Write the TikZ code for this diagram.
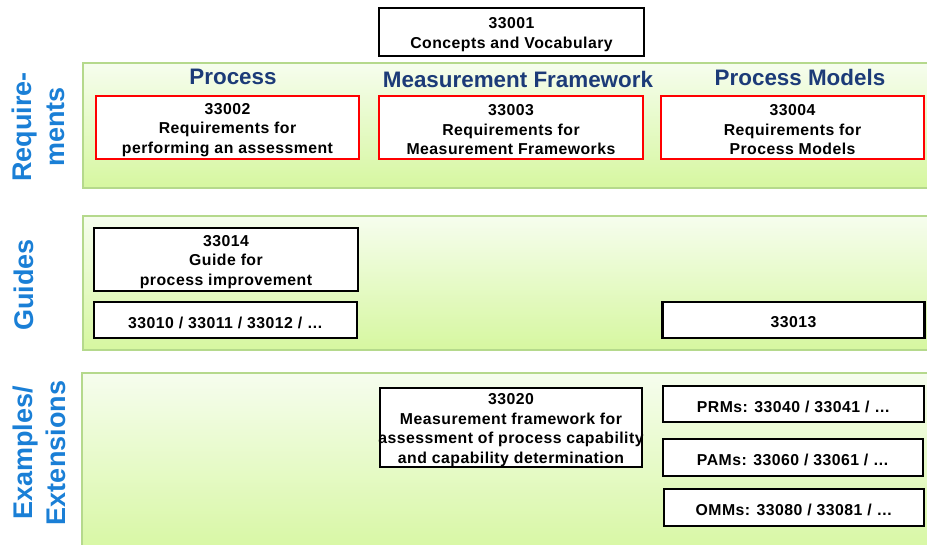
\documentclass[tikz,border=0pt]{standalone}
\usepackage{fontspec}
\setmainfont{Liberation Sans}
\newfontfamily\boxfamily[LetterSpace=3]{Liberation Sans}
\definecolor{lanegreen}{HTML}{B5D98C}
\definecolor{lanetop}{HTML}{F6FDEE}
\definecolor{lanebot}{HTML}{D6F7A0}
\definecolor{navy}{HTML}{1C3B78}
\definecolor{sideblue}{HTML}{1A7FD6}
\definecolor{boxred}{HTML}{FF0000}
\begin{document}
\begin{tikzpicture}[x=1pt,y=-1pt,
  lane/.style={draw=lanegreen, line width=1.2pt, top color=lanetop, bottom color=lanebot},
  box/.style={draw=black, line width=2.8pt, fill=white, inner sep=0pt},
  reqbox/.style={box, draw=boxred},
  txt/.style={font=\boxfamily\fontsize{15.8}{19.5}\selectfont\bfseries, align=center, inner sep=0pt, yshift=-2.5pt},
  hdr/.style={font=\fontsize{22.4}{26}\selectfont\bfseries, text=navy, inner sep=0pt},
  side/.style={font=\fontsize{27}{33}\selectfont\bfseries, text=sideblue, rotate=90, align=center, inner sep=0pt}]
\useasboundingbox (0,0) rectangle (927,545);
% lanes
\path[lane] (83,63) rectangle (940,188);
\path[lane] (83,216) rectangle (940,350);
\path[lane] (82,373) rectangle (940,560);
% side labels
\node[side] (lreq) at (38,127) {Require-\\ments};
\node[side] (lgui) at (24,285) {Guides};
\node[side] (lext) at (39,453) {Examples/\\Extensions};
% headers
\node[hdr] (hproc) at (233,77) {Process};
\node[hdr] (hmf) at (518,79) {Measurement Framework};
\node[hdr] (hpm) at (800,77) {Process Models};
% boxes
\node[box, minimum width=265, minimum height=48] (b1) at (511.5,32) {};
\node[txt] at (b1.center) {33001\\Concepts and Vocabulary};
\node[reqbox, minimum width=263, minimum height=63] (b2) at (227.5,127.5) {};
\node[txt] at (b2.center) {33002\\Requirements for\\performing an assessment};
\node[reqbox, minimum width=264, minimum height=63] (b3) at (511,127.5) {};
\node[txt] at (b3.center) {33003\\Requirements for\\Measurement Frameworks};
\node[reqbox, minimum width=263, minimum height=63] (b4) at (792.5,127.5) {};
\node[txt] at (b4.center) {33004\\Requirements for\\Process Models};
\node[box, minimum width=264, minimum height=63] (b14) at (226,259.5) {};
\node[txt] at (b14.center) {33014\\Guide for\\process improvement};
\node[box, minimum width=263, minimum height=36] (b10) at (225.5,320) {};
\node[txt] at (b10.center) {33010 / 33011 / 33012 / \dots};
\node[box, minimum width=262, minimum height=36] (b13) at (793.5,320) {};
\node[txt] at (b13.center) {33013};
\node[box, minimum width=262, minimum height=79] (b20) at (511,427.5) {};
\node[txt] at (b20.center) {33020\\Measurement framework for\\assessment of process capability\\and capability determination};
\node[box, minimum width=261, minimum height=36] (bprm) at (793.5,404) {};
\node[txt] at (bprm.center) {PRMs: 33040 / 33041 / \dots};
\node[box, minimum width=260, minimum height=37] (bpam) at (793,457.5) {};
\node[txt] at (bpam.center) {PAMs: 33060 / 33061 / \dots};
\node[box, minimum width=260, minimum height=37] (bomm) at (794,507.5) {};
\node[txt] at (bomm.center) {OMMs: 33080 / 33081 / \dots};
\end{tikzpicture}
\end{document}
